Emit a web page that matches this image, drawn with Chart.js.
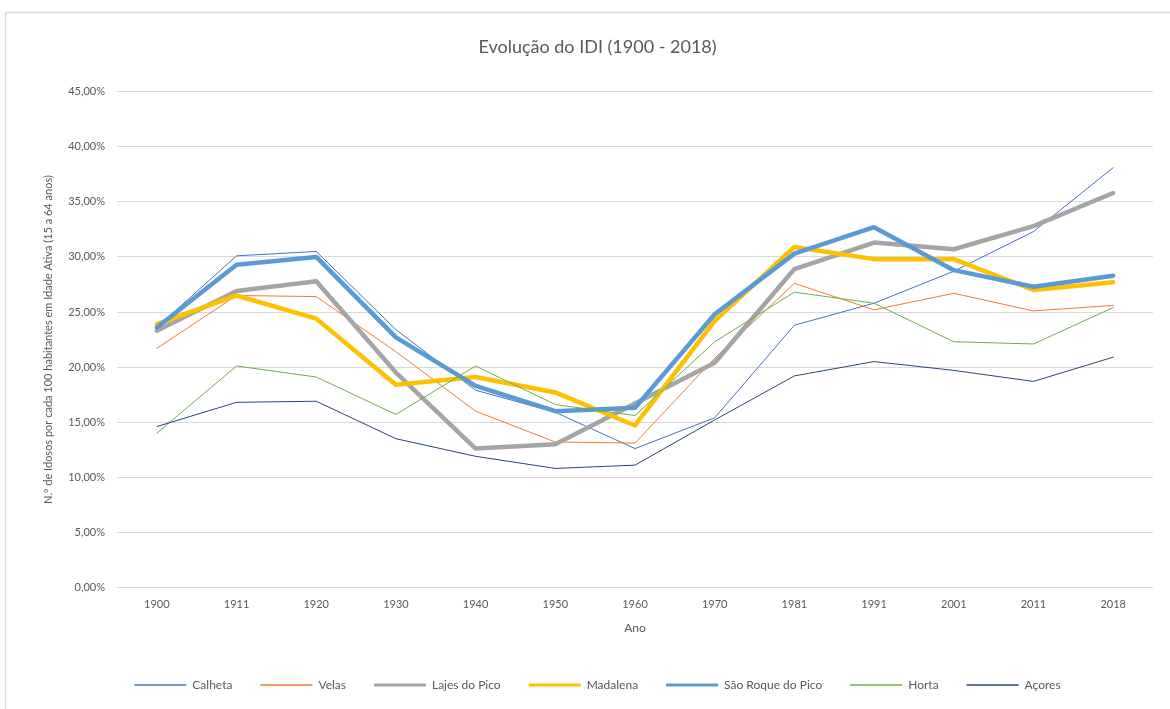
<!DOCTYPE html>
<html>
<head>
<meta charset="utf-8">
<title>Evolução do IDI (1900 - 2018)</title>
<script src="https://cdn.jsdelivr.net/npm/chart.js@4.4.1/dist/chart.umd.min.js"></script>
<style>
  html, body { margin: 0; padding: 0; background: #fff; overflow: hidden; }
  #wrap { position: relative; width: 1170px; height: 709px; }
</style>
</head>
<body>
<div id="wrap"><canvas id="idiChart"></canvas></div>
<script>
// anos dos censos
const years = ["1900", "1911", "1920", "1930", "1940", "1950", "1960", "1970", "1981", "1991", "2001", "2011", "2018"];

// IDI (%)
const calheta  = [23.6, 30.1, 30.5, 23.4, 17.9, 15.9, 12.6, 15.4, 23.8, 25.8, 28.7, 32.3, 38.1];
const velas    = [21.7, 26.5, 26.4, 21.4, 16.0, 13.2, 13.1, 20.8, 27.6, 25.2, 26.7, 25.1, 25.6];
const lajes    = [23.3, 26.9, 27.8, 19.5, 12.6, 13.0, 16.7, 20.4, 28.9, 31.3, 30.7, 32.8, 35.8];
const madalena = [23.9, 26.5, 24.4, 18.4, 19.1, 17.7, 14.7, 24.2, 30.9, 29.8, 29.8, 27.0, 27.7];
const saoRoque = [23.6, 29.3, 30.0, 22.7, 18.3, 16.0, 16.3, 24.8, 30.3, 32.7, 28.8, 27.3, 28.3];
const horta    = [14.0, 20.1, 19.1, 15.7, 20.1, 16.6, 15.6, 22.3, 26.8, 25.8, 22.3, 22.1, 25.4];
const acores   = [14.6, 16.8, 16.9, 13.5, 11.9, 10.8, 11.1, 15.2, 19.2, 20.5, 19.7, 18.7, 20.9];

const seriesNames = ["Calheta", "Velas", "Lajes do Pico", "Madalena", "São Roque do Pico", "Horta", "Açores"];
const seriesData = [calheta, velas, lajes, madalena, saoRoque, horta, acores];
const seriesColors = ["#4472C4", "#ED7D31", "#A5A5A5", "#FFC000", "#5B9BD5", "#70AD47", "#264478"];
const seriesWidths = [1, 1, 4.5, 4.5, 4.5, 1, 1];

const textColor = "#595959";
const gridColor = "#d9d9d9";

// moldura cinzenta do gráfico (só topo e esquerda ficam visíveis)
const framePlugin = {
  id: "frame",
  beforeDraw(chart) {
    const ctx = chart.ctx;
    ctx.save();
    ctx.strokeStyle = "#d9d9d9";
    ctx.lineWidth = 1.5;
    ctx.beginPath();
    ctx.moveTo(5.5, chart.height);
    ctx.lineTo(5.5, 12.5);
    ctx.lineTo(chart.width, 12.5);
    ctx.stroke();
    ctx.restore();
  }
};

const datasets = seriesNames.map((name, i) => ({
  label: name,
  data: seriesData[i],
  borderColor: seriesColors[i],
  backgroundColor: seriesColors[i],
  borderWidth: seriesWidths[i],
  pointRadius: 0,
  pointHoverRadius: 0,
  tension: 0,
  borderJoinStyle: "round",
  borderCapStyle: "round",
  fill: false,
  order: seriesNames.length - i   // última série por cima, como no Excel
}));

// linhas da legenda um pouco mais finas que as do gráfico
const defaultLabels = Chart.defaults.plugins.legend.labels.generateLabels;
function legendLabels(chart) {
  return defaultLabels(chart).map(item => {
    item.lineWidth = item.lineWidth > 2 ? 3 : 1.5;
    return item;
  });
}

new Chart(document.getElementById("idiChart"), {
  type: "line",
  data: { labels: years, datasets: datasets },
  plugins: [framePlugin],
  options: {
    responsive: true,
    maintainAspectRatio: false,
    animation: false,
    layout: { padding: { left: 42, right: 17, top: 0, bottom: 8 } },
    plugins: {
      title: {
        display: true,
        text: "Evolução do IDI (1900 - 2018)",
        color: textColor,
        font: { family: "Lato", size: 18, weight: "normal" },
        padding: { top: 36.7, bottom: 33.4 }
      },
      legend: {
        position: "bottom",
        reverse: true,
        labels: {
          color: textColor,
          font: { family: "Lato", size: 12 },
          usePointStyle: true,
          pointStyle: "line",
          pointStyleWidth: 52,
          padding: 28,
          generateLabels: legendLabels
        }
      },
      tooltip: { enabled: false }
    },
    scales: {
      x: {
        offset: true,
        grid: { display: false, drawTicks: false },
        border: { display: false },
        ticks: { color: textColor, font: { family: "Lato", size: 11 }, padding: 10, maxRotation: 0 },
        title: {
          display: true,
          text: "Ano",
          color: textColor,
          font: { family: "Lato", size: 12 },
          padding: { top: 0.2, bottom: 15.8 }
        }
      },
      y: {
        min: 0,
        max: 45,
        grid: { color: gridColor, lineWidth: 1, drawTicks: false },
        border: { display: false },
        ticks: {
          stepSize: 5,
          color: textColor,
          font: { family: "Lato", size: 11 },
          padding: 12,
          callback: v => v.toFixed(2).replace(".", ",") + "%"
        },
        title: {
          display: true,
          text: "N.º de Idosos por cada 100 habitantes em Idade Ativa (15 a 64 anos)",
          color: textColor,
          font: { family: "Lato", size: 11 },
          padding: { top: 0, bottom: 0 }
        },
        afterFit(scale) { scale.width = 75; }
      }
    }
  }
});
</script>
</body>
</html>
